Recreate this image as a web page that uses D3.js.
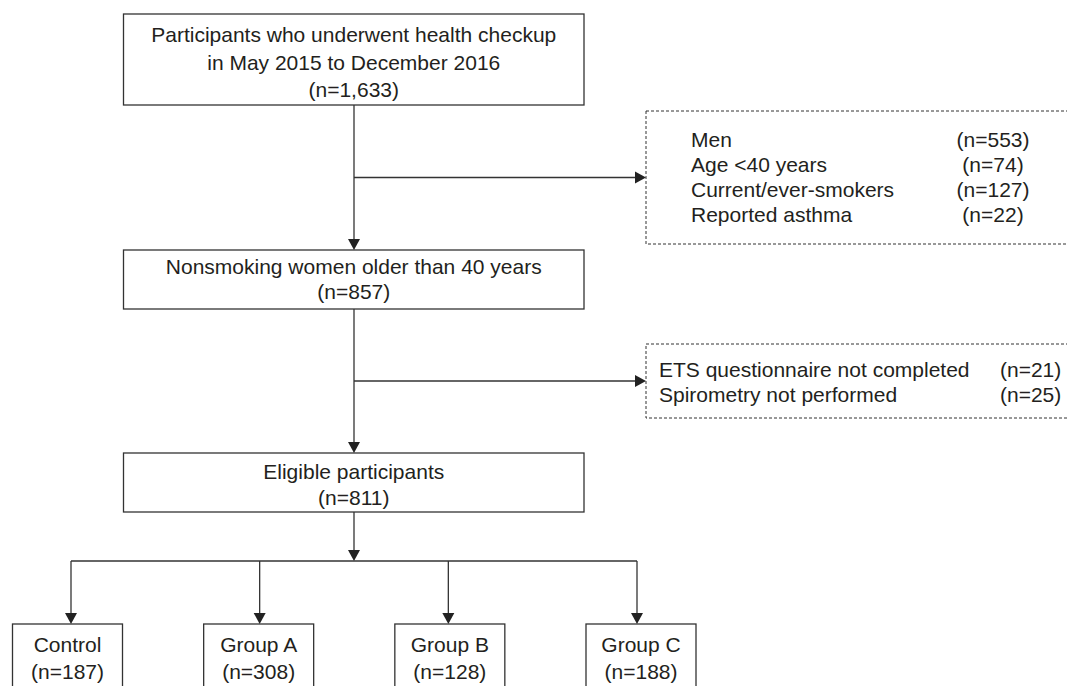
<!DOCTYPE html>
<html>
<head>
<meta charset="utf-8">
<script src="https://cdn.jsdelivr.net/npm/d3@7"></script>
<style>
	html, body { margin: 0; padding: 0; background: #fff; }
	svg { display: block; }
	text { font-family: "Liberation Sans", Arial, sans-serif; font-size: 21px; fill: #231f20; }
</style>
</head>
<body>
<div id="chart"></div>
<script>
// flow steps (main column)
const stepLabels = [
	['Participants who underwent health checkup', 'in May 2015 to December 2016'],
	['Nonsmoking women older than 40 years'],
	['Eligible participants']
];
const stepCounts = ['1,633', '857', '811'];

// exclusions
const exclusion1Labels = ['Men', 'Age <40 years', 'Current/ever-smokers', 'Reported asthma'];
const exclusion1Counts = [553, 74, 127, 22];
const exclusion2Labels = ['ETS questionnaire not completed', 'Spirometry not performed'];
const exclusion2Counts = [21, 25];

// final groups
const groupLabels = ['Control', 'Group A', 'Group B', 'Group C'];
const groupCounts = [187, 308, 128, 188];

const width = 1067, height = 686;
const stroke = '#333';

const svg = d3.select('#chart').append('svg')
	.attr('width', width)
	.attr('height', height);

const mainX = 354;
const boxLeft = 123.5, boxRight = 584;
const steps = [
	{ top: 14, bottom: 105, first: 35, gap: 27.5 },
	{ top: 250, bottom: 309, first: 267, gap: 25 },
	{ top: 453, bottom: 512, first: 472, gap: 26 }
];

function line(x1, y1, x2, y2) {
	svg.append('line')
		.attr('x1', x1).attr('y1', y1).attr('x2', x2).attr('y2', y2)
		.attr('stroke', stroke).attr('stroke-width', 1.3);
}

function arrowDown(x, y) {
	svg.append('path')
		.attr('d', `M${x - 6},${y - 11}L${x + 6},${y - 11}L${x},${y}Z`)
		.attr('fill', '#222');
}

function arrowRight(x, y) {
	svg.append('path')
		.attr('d', `M${x - 11},${y - 6}L${x - 11},${y + 6}L${x},${y}Z`)
		.attr('fill', '#222');
}

// main boxes
steps.forEach((s, i) => {
	svg.append('rect')
		.attr('x', boxLeft).attr('y', s.top)
		.attr('width', boxRight - boxLeft).attr('height', s.bottom - s.top)
		.attr('fill', 'none').attr('stroke', stroke).attr('stroke-width', 1.3);
	const lines = stepLabels[i].concat([`(n=${stepCounts[i]})`]);
	svg.selectAll(null)
		.data(lines)
		.enter().append('text')
		.attr('x', (boxLeft + boxRight) / 2)
		.attr('y', (d, j) => s.first + j * s.gap)
		.attr('dy', '.35em')
		.attr('text-anchor', 'middle')
		.text(d => d);
});

// connectors between main boxes
line(mainX, steps[0].bottom, mainX, steps[1].top - 10);
arrowDown(mainX, steps[1].top);
line(mainX, steps[1].bottom, mainX, steps[2].top - 10);
arrowDown(mainX, steps[2].top);

// exclusion boxes
const excl = [
	{ top: 111, bottom: 244, labels: exclusion1Labels, counts: exclusion1Counts, first: 140, gap: 25, textX: 691, countX: 993, anchor: 'middle' },
	{ top: 344, bottom: 418, labels: exclusion2Labels, counts: exclusion2Counts, first: 370, gap: 25, textX: 659, countX: 1000, anchor: 'start' }
];
const exclLeft = 646;

excl.forEach(e => {
	const midY = (e.top + e.bottom) / 2;
	svg.append('rect')
		.attr('x', exclLeft).attr('y', e.top)
		.attr('width', width + 20 - exclLeft).attr('height', e.bottom - e.top)
		.attr('fill', 'none').attr('stroke', stroke).attr('stroke-width', 1)
		.attr('stroke-dasharray', '3,2');
	line(mainX, midY, exclLeft - 10, midY);
	arrowRight(exclLeft, midY);
	svg.selectAll(null)
		.data(e.labels)
		.enter().append('text')
		.attr('x', e.textX)
		.attr('y', (d, j) => e.first + j * e.gap)
		.attr('dy', '.35em')
		.text(d => d);
	svg.selectAll(null)
		.data(e.counts)
		.enter().append('text')
		.attr('x', e.countX)
		.attr('y', (d, j) => e.first + j * e.gap)
		.attr('dy', '.35em')
		.attr('text-anchor', e.anchor)
		.text(d => `(n=${d})`);
});

// split into groups: arrows and boxes are not quite on the same centres
const gx = d3.scalePoint().domain(groupLabels).range([71, 637]);
const bx = d3.scalePoint().domain(groupLabels).range([67.5, 641]);
const splitY = 561, groupTop = 624, groupW = 110;

line(mainX, steps[2].bottom, mainX, splitY - 8);
arrowDown(mainX, splitY);
line(gx(groupLabels[0]), splitY, gx(groupLabels[groupLabels.length - 1]), splitY);

groupLabels.forEach((g, i) => {
	const x = gx(g), cx = bx(g);
	line(x, splitY, x, groupTop - 10);
	arrowDown(x, groupTop);
	svg.append('rect')
		.attr('x', cx - groupW / 2).attr('y', groupTop)
		.attr('width', groupW).attr('height', 120)
		.attr('fill', 'none').attr('stroke', stroke).attr('stroke-width', 1.3);
	svg.append('text')
		.attr('x', cx).attr('y', groupTop + 21)
		.attr('dy', '.35em')
		.attr('text-anchor', 'middle')
		.text(g);
	svg.append('text')
		.attr('x', cx).attr('y', groupTop + 48)
		.attr('dy', '.35em')
		.attr('text-anchor', 'middle')
		.text(`(n=${groupCounts[i]})`);
});
</script>
</body>
</html>
